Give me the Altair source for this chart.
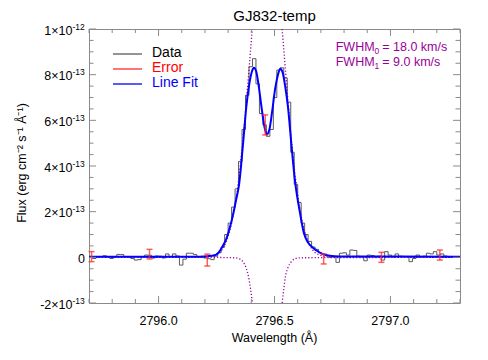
import altair as alt
import pandas as pd

FONT = "Liberation Sans, Arial, Helvetica, sans-serif"
W, H = 371, 274
FRAME = "#8a8a8a"
PURPLE = "#990099"
RED = "#ff2a2a"
BLUE = "#0000ff"
GRAY = "#5a5a5a"

title_text = "GJ832-temp"
x_title = "Wavelength (Å)"
y_title = "Flux (erg cm⁻² s⁻¹ Å⁻¹)"

# Spectrum (flux in units of 1e-13 erg cm-2 s-1 Å-1), regular pixel grid
wave_start = 2795.7075
wave_step = 0.015
flux = [0.03, -0.05, 0.03, 0.03, 0.07, 0.03, -0.05, 0.03, 0.13, 0.12,
        0.03, 0.02, -0.05, -0.12, -0.10, 0.03, 0.10, 0.09, -0.03, 0.06,
        0.05, -0.03, 0.15, 0.03, 0.15, 0.06, -0.34, -0.08, 0.18, 0.18,
        0.12, 0.03, 0.00, -0.03, -0.06, -0.10, 0.05, 0.20, 0.45, 1.00,
        1.50, 2.20, 3.00, 4.20, 5.60, 7.10, 8.35, 8.70, 7.60, 6.30,
        5.80, 5.30, 5.60, 7.00, 8.20, 8.30, 7.85, 6.80, 4.60, 3.20,
        2.40, 1.50, 1.00, 0.70, 0.45, 0.35, 0.20, 0.12, 0.07, 0.00,
        0.02, -0.22, 0.18, 0.20, 0.10, 0.32, 0.30, 0.05, 0.02, -0.15,
        0.10, 0.08, 0.02, 0.05, -0.12, 0.25, 0.10, 0.02, 0.15, 0.05,
        0.04, 0.03, -0.19, -0.05, 0.10, 0.03, 0.05, 0.18, 0.15, 0.25,
        0.10, 0.15, 0.06, 0.03, 0.03, 0.00, 0.00]
wave = [round(wave_start + wave_step * i, 4) for i in range(len(flux))]

# Line fit
fit_wave = [2795.700, 2796.177, 2796.211, 2796.242, 2796.256, 2796.277, 2796.292, 2796.306,
            2796.321, 2796.334, 2796.347, 2796.364, 2796.378, 2796.393, 2796.403, 2796.411,
            2796.421, 2796.432, 2796.445, 2796.457, 2796.467, 2796.478, 2796.490, 2796.503,
            2796.515, 2796.525, 2796.535, 2796.546, 2796.558, 2796.573, 2796.587, 2796.609,
            2796.627, 2796.644, 2796.662, 2796.681, 2796.709, 2796.738, 2796.781, 2797.300]
fit_flux = [0.03, 0.03, 0.05, 0.09, 0.18, 0.50, 0.80, 1.25,
            1.86, 2.50, 3.17, 4.93, 6.54, 7.70, 8.15, 8.30,
            8.15, 7.50, 6.50, 5.70, 5.39, 5.60, 6.40, 7.40,
            8.00, 8.26, 8.10, 7.50, 6.60, 4.93, 3.46, 2.00,
            1.05, 0.66, 0.45, 0.30, 0.14, 0.07, 0.04, 0.03]

# Intrinsic emission component (dotted, runs off the top)
comp0_wave = [2795.700, 2796.177, 2796.252, 2796.296, 2796.317, 2796.339, 2796.360, 2796.382, 2796.393, 2796.404,
              2796.533, 2796.544, 2796.555, 2796.576, 2796.598, 2796.619, 2796.641, 2796.684, 2796.738, 2797.300]
comp0_flux = [0.00, 0.00, 0.15, 0.80, 1.59, 2.89, 4.79, 7.24, 8.60, 10.00,
              10.00, 8.60, 7.24, 4.79, 2.89, 1.59, 0.80, 0.15, 0.02, 0.00]
comp0_seg = ["a"] * 10 + ["b"] * 10

# Absorption component (dotted, runs off the bottom)
comp1_wave = [2795.700, 2796.177, 2796.328, 2796.349, 2796.364, 2796.378, 2796.388, 2796.397, 2796.405,
              2796.533, 2796.540, 2796.547, 2796.557, 2796.573, 2796.587, 2796.609, 2797.300]
comp1_flux = [0.00, 0.00, -0.02, -0.07, -0.19, -0.48, -0.85, -1.40, -2.00,
              -2.00, -1.40, -0.85, -0.48, -0.19, -0.07, -0.02, 0.00]
comp1_seg = ["a"] * 9 + ["b"] * 8

# Error bars
err_wave = [2795.711, 2795.961, 2796.210, 2796.460, 2796.712, 2796.961, 2797.213]
err_flux = [0.03, 0.14, -0.12, 5.80, -0.07, 0.00, 0.10]
err_sig = [0.22, 0.21, 0.26, 0.44, 0.22, 0.22, 0.22]

# Axis ticks and labels
xtick_major = [2796.0, 2796.5, 2797.0]
xtick_labels = ["2796.0", "2796.5", "2797.0"]
xtick_minor = [2795.7, 2795.8, 2795.9, 2796.1, 2796.2, 2796.3, 2796.4,
               2796.6, 2796.7, 2796.8, 2796.9, 2797.1, 2797.2, 2797.3]
ytick_major = [-2, 0, 2, 4, 6, 8, 10]
ytick_base = ["-2×10", "0", "2×10", "4×10", "6×10", "8×10", "1×10"]
ytick_sup = ["-13", "", "-13", "-13", "-13", "-13", "-12"]
ytick_minor = [-1.5, -1, -0.5, 0.5, 1, 1.5, 2.5, 3, 3.5, 4.5, 5, 5.5,
               6.5, 7, 7.5, 8.5, 9, 9.5]

legend_labels = ["Data", "Error", "Line Fit"]
fwhm_main = ["FWHM", "FWHM"]
fwhm_sub = ["0", "1"]
fwhm_rest = ["= 18.0 km/s", "= 9.0 km/s"]

xs = alt.Scale(domain=[2795.7, 2797.3], nice=False, zero=False)
ys = alt.Scale(domain=[-2, 10], nice=False, zero=False)


def X(f="w"):
    return alt.X(f"{f}:Q", scale=xs, axis=None)


def Y(f="f"):
    return alt.Y(f"{f}:Q", scale=ys, axis=None)


spec_df = pd.DataFrame({"w": wave, "f": flux})
fit_df = pd.DataFrame({"w": fit_wave, "f": fit_flux})
c0_df = pd.DataFrame({"w": comp0_wave, "f": comp0_flux, "seg": comp0_seg})
c1_df = pd.DataFrame({"w": comp1_wave, "f": comp1_flux, "seg": comp1_seg})
err_df = pd.DataFrame({"w": err_wave, "f": err_flux, "e": err_sig})

layers = []

# data
layers.append(alt.Chart(spec_df).mark_line(interpolate="step", color=GRAY, strokeWidth=1)
              .encode(x=X(), y=Y()))
# dotted components
for df in (c0_df, c1_df):
    layers.append(alt.Chart(df).mark_line(interpolate="monotone", color=PURPLE, strokeWidth=1.3,
                                          strokeDash=[1.2, 2.0], clip=True)
                  .encode(x=X(), y=Y(), detail="seg:N"))
# fit
layers.append(alt.Chart(fit_df).mark_line(interpolate="monotone", color=BLUE, strokeWidth=2)
              .encode(x=X(), y=Y()))
# error bars
eb = alt.Chart(err_df).transform_calculate(lo="datum.f - datum.e", hi="datum.f + datum.e")
layers.append(eb.mark_rule(color=RED, strokeWidth=1.5, opacity=0.75)
              .encode(x=X(), y=Y("lo"), y2=alt.Y2("hi:Q")))
layers.append(eb.mark_tick(color=RED, orient="horizontal", size=6, thickness=1.5, opacity=0.75)
              .encode(x=X(), y=Y("lo")))
layers.append(eb.mark_tick(color=RED, orient="horizontal", size=6, thickness=1.5, opacity=0.75)
              .encode(x=X(), y=Y("hi")))

# inward ticks on all four sides
xmaj = alt.Chart(pd.DataFrame({"v": xtick_major, "t": xtick_labels}))
xmin = alt.Chart(pd.DataFrame({"v": xtick_minor}))
ymaj = alt.Chart(pd.DataFrame({"v": ytick_major, "base": ytick_base, "sup": ytick_sup}))
ymin = alt.Chart(pd.DataFrame({"v": ytick_minor}))
for ch, ln in ((xmaj, 7), (xmin, 4)):
    layers.append(ch.mark_rule(color=FRAME, strokeWidth=1)
                  .encode(x=X("v"), y=alt.value(H), y2=alt.value(H - ln)))
    layers.append(ch.mark_rule(color=FRAME, strokeWidth=1)
                  .encode(x=X("v"), y=alt.value(0), y2=alt.value(ln)))
for ch, ln in ((ymaj, 7), (ymin, 4.5)):
    layers.append(ch.mark_rule(color=FRAME, strokeWidth=1)
                  .encode(y=Y("v"), x=alt.value(0), x2=alt.value(ln)))
    layers.append(ch.mark_rule(color=FRAME, strokeWidth=1)
                  .encode(y=Y("v"), x=alt.value(W), x2=alt.value(W - ln)))

# tick labels
layers.append(xmaj.mark_text(font=FONT, fontSize=12.5, color="black", baseline="alphabetic")
              .encode(x=X("v"), y=alt.value(H + 22), text="t:N"))
layers.append(ymaj.transform_filter("datum.sup != ''")
              .mark_text(font=FONT, fontSize=12.5, color="black", align="right", baseline="middle", dy=1.5)
              .encode(y=Y("v"), x=alt.value(-16.5), text="base:N"))
layers.append(ymaj.transform_filter("datum.sup != ''")
              .mark_text(font=FONT, fontSize=8.5, color="black", align="left", baseline="middle", dy=-2.5)
              .encode(y=Y("v"), x=alt.value(-16.5), text="sup:N"))
layers.append(ymaj.transform_filter("datum.sup == ''")
              .mark_text(font=FONT, fontSize=12.5, color="black", align="right", baseline="middle", dy=1.5)
              .encode(y=Y("v"), x=alt.value(-4), text="base:N"))

# axis titles
layers.append(alt.Chart(pd.DataFrame({"t": [x_title]}))
              .mark_text(font=FONT, fontSize=12.5, color="black", baseline="alphabetic")
              .encode(x=alt.value(W / 2), y=alt.value(H + 39), text="t:N"))
layers.append(alt.Chart(pd.DataFrame({"t": [y_title]}))
              .mark_text(font=FONT, fontSize=12.5, color="black", baseline="middle", angle=270)
              .encode(x=alt.value(-67), y=alt.value(H / 2 - 3), text="t:N"))

# legend
leg_line_colors = [GRAY, RED, BLUE]
leg_text_colors = ["black", "#ff0000", BLUE]
for i, lab in enumerate(legend_labels):
    d = alt.Chart(pd.DataFrame({"t": [lab]}))
    yy = 25 + 15 * i
    layers.append(d.mark_rule(color=leg_line_colors[i], strokeWidth=1.3)
                  .encode(x=alt.value(24), x2=alt.value(53), y=alt.value(yy)))
    layers.append(d.mark_text(font=FONT, fontSize=14, color=leg_text_colors[i], align="left", baseline="middle")
                  .encode(x=alt.value(63), y=alt.value(yy - 1), text="t:N"))

# FWHM annotation
for i in range(2):
    d = alt.Chart(pd.DataFrame({"m": [fwhm_main[i]], "s": [fwhm_sub[i]], "r": [fwhm_rest[i]]}))
    yy = 17.7 + 15 * i
    layers.append(d.mark_text(font=FONT, fontSize=12.5, color=PURPLE, align="left", baseline="middle")
                  .encode(x=alt.value(246.7), y=alt.value(yy), text="m:N"))
    layers.append(d.mark_text(font=FONT, fontSize=8.5, color=PURPLE, align="left", baseline="middle")
                  .encode(x=alt.value(285.6), y=alt.value(yy + 4), text="s:N"))
    layers.append(d.mark_text(font=FONT, fontSize=12.5, color=PURPLE, align="left", baseline="middle")
                  .encode(x=alt.value(293.3), y=alt.value(yy), text="r:N"))

chart = alt.layer(*layers).properties(
    width=W, height=H,
    title=alt.Title(title_text, fontSize=15, font=FONT, fontWeight="normal", anchor="middle",
                    frame="group", offset=6, dy=7.5, color="black"),
    autosize=alt.AutoSizeParams(type="none"),
    padding={"left": 81, "top": 21, "right": 20, "bottom": 48},
    background="white",
).configure_view(stroke=FRAME, strokeWidth=1)

chart.save("out.html", embed_options={"renderer": "svg", "actions": False})
